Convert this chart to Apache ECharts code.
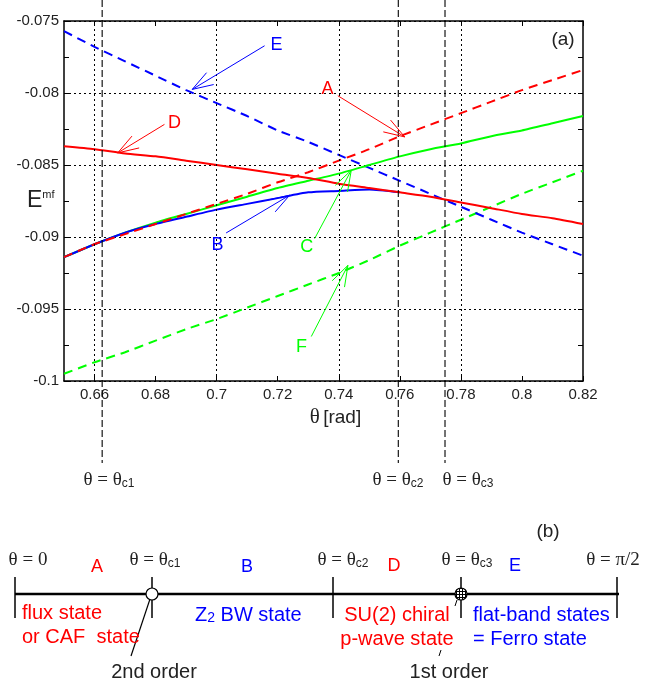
<!DOCTYPE html>
<html>
<head>
<meta charset="utf-8" />
<title>Emf vs theta</title>
<script src="https://cdn.jsdelivr.net/npm/echarts@6/dist/echarts.min.js"></script>
<style>
  html, body { margin: 0; padding: 0; background: #fff; }
  #content { width: 664px; height: 683px; }
</style>
</head>
<body>
<div id="content"></div>
<script>
// theta [rad] sample points
var theta = [0.65, 0.66, 0.67, 0.68, 0.69, 0.70, 0.71, 0.72, 0.73, 0.74,
             0.75, 0.76, 0.77, 0.78, 0.79, 0.80, 0.81, 0.82];
// mean-field energies
var stateA = [-0.0914, -0.0905, -0.0898, -0.0891, -0.0884, -0.0877, -0.0870, -0.0862, -0.0855, -0.0847,
              -0.0839, -0.0830, -0.0822, -0.0814, -0.0806, -0.0798, -0.0791, -0.0784];
var stateB = [-0.0914, -0.0905, -0.0897, -0.0891, -0.0886, -0.0881, -0.0877, -0.0873, -0.0869, -0.0868,
              -0.0867, -0.0869, null, null, null, null, null, null];
var stateC = [-0.0914, -0.0905, -0.0897, -0.0890, -0.0884, -0.0878, -0.0872, -0.0866, -0.0861, -0.0856,
              -0.0850, -0.0844, -0.0839, -0.0835, -0.0830, -0.0826, -0.0821, -0.0816];
var stateD = [-0.0837, -0.0839, -0.0842, -0.0844, -0.0847, -0.0850, -0.0853, -0.0856, -0.0859, -0.0863,
              -0.0866, -0.0869, -0.0872, -0.0876, -0.0880, -0.0884, -0.0887, -0.0891];
var stateE = [-0.0757, -0.0768, -0.0778, -0.0788, -0.0798, -0.0807, -0.0816, -0.0826, -0.0834, -0.0843,
              -0.0852, -0.0861, -0.0870, -0.0879, -0.0888, -0.0897, -0.0905, -0.0913];
var stateF = [-0.0995, -0.0987, -0.0980, -0.0972, -0.0964, -0.0957, -0.0949, -0.0941, -0.0933, -0.0925,
              -0.0916, -0.0906, -0.0897, -0.0888, -0.0879, -0.0870, -0.0862, -0.0854];

var xTicks = [0.66, 0.68, 0.70, 0.72, 0.74, 0.76, 0.78, 0.80, 0.82];
var xGrid = [0.66, 0.70, 0.74, 0.78];
var thetaC = [0.6625, 0.7595, 0.7748];

var red = '#ff0000', blue = '#0000ff', green = '#00ff00';

function pairs(ys) {
    var out = [];
    for (var i = 0; i < theta.length; i++) {
        out.push([theta[i], ys[i]]);
    }
    return out;
}

function curve(name, ys, color, dashed) {
    return {
        name: name,
        type: 'line',
        data: pairs(ys),
        showSymbol: false,
        symbol: 'none',
        smooth: 0.2,
        connectNulls: false,
        lineStyle: { color: color, width: 2, type: dashed ? [9, 6] : 'solid' },
        silent: true
    };
}

var chart = echarts.init(document.getElementById('content'));

var fF = curve('F', stateF, green, true);
fF.markLine = {
    silent: true,
    symbol: 'none',
    label: { show: false },
    lineStyle: { color: '#000', width: 1, type: [2, 3] },
    data: xGrid.map(function (v) { return { xAxis: v }; })
};

var sansAxis = { fontFamily: 'Liberation Sans', fontSize: 15, color: '#222' };

chart.setOption({
    animation: false,
    backgroundColor: '#fff',
    grid: { left: 64, top: 21, width: 519, height: 360, containLabel: false, outerBoundsMode: 'none' },
    xAxis: [{
        type: 'value', min: 0.65, max: 0.82, position: 'bottom',
        name: '{g|θ} {r|[rad]}', nameLocation: 'middle', nameGap: 20,
        nameTextStyle: {
            padding: [0, 0, 0, 24],
            rich: {
                g: { fontFamily: 'Liberation Serif', fontSize: 21, color: '#222' },
                r: { fontFamily: 'Liberation Sans', fontSize: 19, color: '#222' }
            }
        },
        axisLine: { lineStyle: { color: '#000', width: 1.5 } },
        axisTick: { inside: true, length: 5, customValues: xTicks, lineStyle: { color: '#000' } },
        axisLabel: Object.assign({ customValues: xTicks, margin: 6,
            formatter: function (v) { return String(Math.round(v * 100) / 100); } }, sansAxis),
        splitLine: { show: false }
    }, {
        type: 'value', min: 0.65, max: 0.82, position: 'top',
        axisLine: { lineStyle: { color: '#000', width: 1.5 } },
        axisTick: { inside: true, length: 5, customValues: xTicks, lineStyle: { color: '#000' } },
        axisLabel: { show: false },
        splitLine: { show: false }
    }],
    yAxis: [{
        type: 'value', min: -0.1, max: -0.075, interval: 0.005, position: 'left',
        axisLine: { show: true, lineStyle: { color: '#000', width: 1.5 } },
        axisTick: { show: true, inside: true, length: 5, lineStyle: { color: '#000' } },
        minorTick: { show: true, splitNumber: 2, length: 5, lineStyle: { color: '#000' } },
        axisLabel: Object.assign({ margin: 5 }, sansAxis),
        splitLine: { show: true, lineStyle: { color: '#000', width: 1, type: [2, 3] } }
    }, {
        type: 'value', min: -0.1, max: -0.075, interval: 0.005, position: 'right',
        axisLine: { show: true, lineStyle: { color: '#000', width: 1.5 } },
        axisTick: { show: true, inside: true, length: 5, lineStyle: { color: '#000' } },
        minorTick: { show: true, splitNumber: 2, length: 5, lineStyle: { color: '#000' } },
        axisLabel: { show: false },
        splitLine: { show: false }
    }],
    series: [
        fF,
        curve('E', stateE, blue, true),
        curve('C', stateC, green, false),
        curve('B', stateB, blue, false),
        curve('D', stateD, red, false),
        curve('A', stateA, red, true)
    ]
});

// labels with arrows, given in data units: text spot, arrow tail, arrow tip
var notes = [
    { t: 'E', c: blue,  at: [0.7196, -0.07667], from: [0.7157, -0.07672], to: [0.6920, -0.07975] },
    { t: 'D', c: red,   at: [0.6862, -0.08209], from: [0.6829, -0.08218], to: [0.6676, -0.08416] },
    { t: 'A', c: red,   at: [0.7363, -0.07973], from: [0.7397, -0.08019], to: [0.7616, -0.08305] },
    { t: 'B', c: blue,  at: [0.7003, -0.09058], from: [0.7031, -0.08972], to: [0.7239, -0.08710] },
    { t: 'C', c: green, at: [0.7295, -0.09072], from: [0.7321, -0.09011], to: [0.7441, -0.08536] },
    { t: 'F', c: green, at: [0.7278, -0.09767], from: [0.7310, -0.09691], to: [0.7430, -0.09197] }
];

function px(p) {
    return chart.convertToPixel({ xAxisIndex: 0, yAxisIndex: 0 }, p);
}

var g = [];

notes.forEach(function (n) {
    var a = px(n.from), b = px(n.to), s = px(n.at);
    var ang = Math.atan2(a[1] - b[1], a[0] - b[0]);
    var len = 22, spread = 0.32;
    g.push({ type: 'line', silent: true, z: 10,
        shape: { x1: a[0], y1: a[1], x2: b[0], y2: b[1] },
        style: { stroke: n.c, lineWidth: 1 } });
    g.push({ type: 'polyline', silent: true, z: 10,
        shape: { points: [
            [b[0] + len * Math.cos(ang + spread), b[1] + len * Math.sin(ang + spread)],
            b,
            [b[0] + len * Math.cos(ang - spread), b[1] + len * Math.sin(ang - spread)]
        ] },
        style: { stroke: n.c, lineWidth: 1, fill: null } });
    g.push({ type: 'text', silent: true, z: 10, x: s[0], y: s[1],
        style: { text: n.t, fill: n.c, font: '18px "Liberation Sans"', align: 'center', verticalAlign: 'middle' } });
});

// y axis title E^mf
g.push({ type: 'text', silent: true, x: 27, y: 201,
    style: { text: '{e|E}{m|mf}', align: 'left', verticalAlign: 'middle',
        rich: {
            e: { fontFamily: 'Liberation Sans', fontSize: 23, fill: '#222' },
            m: { fontFamily: 'Liberation Sans', fontSize: 11, fill: '#222', verticalAlign: 'top' }
        } } });

var thetaRich = {
    t: { fontFamily: 'Liberation Serif', fontSize: 19, fill: '#222' },
    s: { fontFamily: 'Liberation Sans', fontSize: 12, fill: '#222', verticalAlign: 'bottom' }
};

// critical angles: dashed guides running past the frame
thetaC.forEach(function (v) {
    var x = px([v, -0.1])[0];
    g.push({ type: 'line', silent: true, z: 5,
        shape: { x1: x, y1: 0, x2: x, y2: 463 },
        style: { stroke: '#000', lineWidth: 1.1, lineDash: [7, 3] } });
});

function thetaLabel(x, y, sub) {
    g.push({ type: 'text', silent: true, x: x, y: y,
        style: { text: sub ? '{t|θ = θ}{s|' + sub + '}' : '{t|θ = 0}', rich: thetaRich,
            align: 'center', verticalAlign: 'middle' } });
}

thetaLabel(109, 480, 'c1');
thetaLabel(398, 480, 'c2');
thetaLabel(468, 480, 'c3');

g.push({ type: 'text', silent: true, x: 563, y: 40,
    style: { text: '(a)', fill: '#222', font: '19px "Liberation Sans"', align: 'center', verticalAlign: 'middle' } });

// (b) phase diagram
var hatch = document.createElement('canvas');
hatch.width = 3; hatch.height = 3;
var hc = hatch.getContext('2d');
hc.fillStyle = '#fff'; hc.fillRect(0, 0, 3, 3);
hc.fillStyle = '#000'; hc.fillRect(0, 0, 3, 1); hc.fillRect(0, 0, 1, 3);

g.push({ type: 'line', silent: true, shape: { x1: 15, y1: 594, x2: 619, y2: 594 },
    style: { stroke: '#000', lineWidth: 2.5 } });
[15, 152, 333, 461, 617].forEach(function (x) {
    g.push({ type: 'line', silent: true, shape: { x1: x, y1: 577, x2: x, y2: 618 },
        style: { stroke: '#000', lineWidth: 1.5 } });
});
g.push({ type: 'line', silent: true, shape: { x1: 150, y1: 599, x2: 131, y2: 656 },
    style: { stroke: '#000', lineWidth: 1.2 } });
g.push({ type: 'line', silent: true, shape: { x1: 457, y1: 600, x2: 455, y2: 606 },
    style: { stroke: '#000', lineWidth: 1 } });
g.push({ type: 'line', silent: true, shape: { x1: 441, y1: 650, x2: 439, y2: 656 },
    style: { stroke: '#000', lineWidth: 1 } });
g.push({ type: 'circle', silent: true, z: 20, shape: { cx: 152, cy: 594, r: 6 },
    style: { fill: '#fff', stroke: '#000', lineWidth: 1.2 } });
g.push({ type: 'circle', silent: true, z: 20, shape: { cx: 461, cy: 594, r: 6 },
    style: { fill: { image: hatch, repeat: 'repeat' }, stroke: '#000', lineWidth: 1.2 } });

function txt(x, y, s, color, size, align) {
    g.push({ type: 'text', silent: true, z: 30, x: x, y: y,
        style: { text: s, fill: color, font: size + 'px "Liberation Sans"',
            align: align || 'left', verticalAlign: 'middle' } });
}

thetaLabel(28, 560, null);
thetaLabel(155, 560, 'c1');
thetaLabel(343, 560, 'c2');
thetaLabel(467, 560, 'c3');
g.push({ type: 'text', silent: true, x: 613, y: 560,
    style: { text: '{t|θ = π/2}', rich: thetaRich, align: 'center', verticalAlign: 'middle' } });

txt(97, 567, 'A', red, 18, 'center');
txt(247, 567, 'B', blue, 18, 'center');
txt(394, 566, 'D', red, 18, 'center');
txt(515, 566, 'E', blue, 18, 'center');
txt(548, 532, '(b)', '#222', 19, 'center');

txt(22, 613, 'flux state', red, 20);
txt(22, 637, 'or CAF  state', red, 20);
g.push({ type: 'text', silent: true, z: 30, x: 195, y: 615,
    style: { text: '{a|Z}{b|2}{a| BW state}', align: 'left', verticalAlign: 'middle',
        rich: {
            a: { fontFamily: 'Liberation Sans', fontSize: 20, fill: blue },
            b: { fontFamily: 'Liberation Sans', fontSize: 14, fill: blue, verticalAlign: 'bottom' }
        } } });
txt(397, 615, 'SU(2) chiral', red, 20, 'center');
txt(397, 639, 'p-wave state', red, 20, 'center');
txt(473, 615, 'flat-band states', blue, 20);
txt(473, 639, '= Ferro state', blue, 20);
txt(154, 672, '2nd order', '#222', 20, 'center');
txt(449, 672, '1st order', '#222', 20, 'center');

chart.setOption({ graphic: g });
</script>
</body>
</html>
